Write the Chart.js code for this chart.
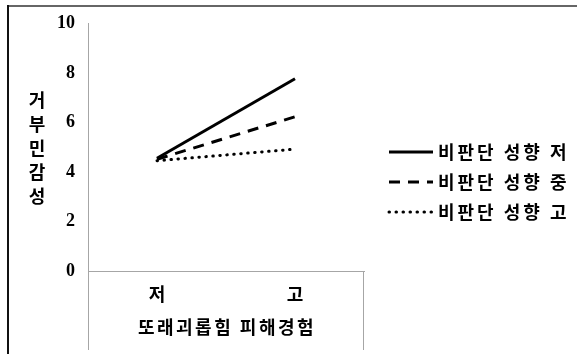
<!DOCTYPE html>
<html>
<head>
<meta charset="utf-8">
<script src="https://cdn.jsdelivr.net/npm/chart.js@4/dist/chart.umd.min.js"></script>
<style>
  html, body { margin: 0; padding: 0; background: #fff; }
  #wrap { width: 577px; height: 354px; position: relative; }
</style>
</head>
<body>
<div id="wrap"><canvas id="miGrafico"></canvas></div>
<script>
// datos
var categorias = ["저", "고"];
var serieBajo = [4.56, 7.78];
var serieMedio = [4.52, 6.24];
var serieAlto = [4.46, 4.93];
var etiquetasSeries = ["비판단 성향 저", "비판단 성향 중", "비판단 성향 고"];
var tituloX = "또래괴롭힘 피해경험";
var tituloY = ["거", "부", "민", "감", "성"];

var fuenteKr = "'Noto Sans CJK KR', sans-serif";

// marco, ejes extendidos, titulos y leyenda
var extras = {
  id: 'extras',
  afterDraw: function (chart) {
    var ctx = chart.ctx;
    var area = chart.chartArea;
    ctx.save();
    // marco exterior
    ctx.fillStyle = '#666';
    ctx.fillRect(8, 5, 569, 2);
    ctx.fillStyle = '#111';
    ctx.fillRect(7, 5, 2, 349);

    // lineas bajo el eje x
    ctx.strokeStyle = '#a6a6a6';
    ctx.lineWidth = 1;
    ctx.beginPath();
    ctx.moveTo(area.left + 0.5, area.bottom);
    ctx.lineTo(area.left + 0.5, 350);
    ctx.moveTo(area.right - 0.5, area.bottom);
    ctx.lineTo(area.right - 0.5, 350);
    ctx.stroke();

    ctx.fillStyle = '#000';
    ctx.textBaseline = 'middle';
    ctx.font = 'bold 18px ' + fuenteKr;
    ctx.letterSpacing = '2.5px';

    // titulo eje x
    ctx.textAlign = 'center';
    ctx.fillText(tituloX, (area.left + area.right) / 2 + 1, 327);

    // titulo eje y, vertical
    ctx.letterSpacing = '0px';
    ctx.font = 'bold 18px ' + fuenteKr;
    tituloY.forEach(function (c, i) {
      ctx.fillText(c, 37, 100 + i * 24);
    });

    // leyenda
    ctx.textAlign = 'left';
    ctx.font = 'bold 18px ' + fuenteKr;
    ctx.letterSpacing = '3px';
    chart.data.datasets.forEach(function (ds, i) {
      var y = 152 + i * 30;
      ctx.save();
      ctx.strokeStyle = ds.borderColor;
      ctx.lineWidth = ds.borderWidth;
      ctx.lineCap = ds.borderCapStyle || 'butt';
      ctx.setLineDash(ds.borderDash || []);
      ctx.beginPath();
      ctx.moveTo(389, y);
      ctx.lineTo(433, y);
      ctx.stroke();
      ctx.restore();
      ctx.fillText(ds.label, 438, y);
    });
    ctx.restore();
  }
};

var miGrafico = document.getElementById("miGrafico").getContext("2d");

var chart = new Chart(miGrafico, {
  type: 'line',
  data: {
    labels: categorias,
    datasets: [
      {
        label: etiquetasSeries[0],
        data: serieBajo,
        borderColor: '#000',
        borderWidth: 3,
        pointRadius: 0,
        fill: false
      },
      {
        label: etiquetasSeries[1],
        data: serieMedio,
        borderColor: '#000',
        borderWidth: 3,
        borderDash: [11, 8],
        pointRadius: 0,
        fill: false
      },
      {
        label: etiquetasSeries[2],
        data: serieAlto,
        borderColor: '#000',
        borderWidth: 3,
        borderDash: [0.5, 6.5],
        borderCapStyle: 'round',
        pointRadius: 0,
        fill: false
      }
    ]
  },
  options: {
    responsive: true,
    maintainAspectRatio: false,
    animation: false,
    layout: { padding: { top: 23, right: 213, left: 0, bottom: 0 } },
    plugins: {
      legend: { display: false },
      tooltip: { enabled: false }
    },
    scales: {
      x: {
        type: 'category',
        offset: true,
        grid: { display: false, drawTicks: false },
        border: { display: true, color: '#a6a6a6', width: 1 },
        ticks: {
          color: '#000',
          padding: 12,
          font: { family: fuenteKr, size: 18, weight: 'bold' }
        },
        afterFit: function (scale) { scale.height = 83; }
      },
      y: {
        min: 0,
        max: 10,
        grid: { display: false, drawTicks: false },
        border: { display: true, color: '#a6a6a6', width: 1 },
        ticks: {
          stepSize: 2,
          color: '#000',
          padding: 13,
          font: { family: "'Liberation Serif', serif", size: 18, weight: 'bold' }
        },
        afterFit: function (scale) { scale.width = 88; }
      }
    }
  },
  plugins: [extras]
});
</script>
</body>
</html>
